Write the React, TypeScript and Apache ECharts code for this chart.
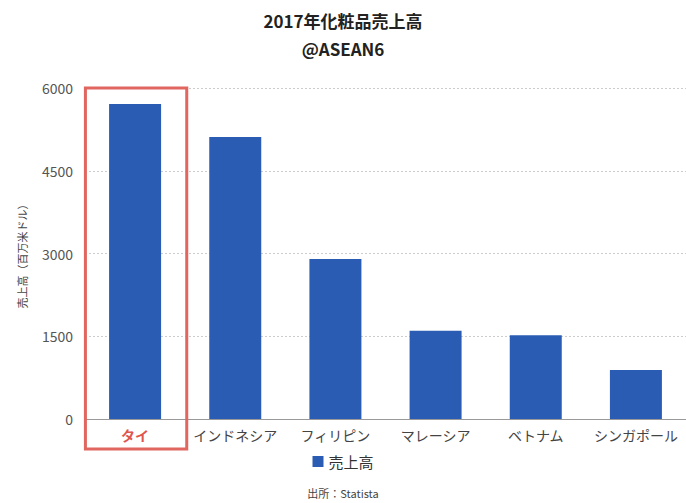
import React, { useEffect, useRef } from "react";
import * as echarts from "echarts";

const categories = ["タイ", "インドネシア", "フィリピン", "マレーシア", "ベトナム", "シンガポール"];
const salesValues = [5710, 5110, 2900, 1600, 1520, 890];
const yTicks = [0, 1500, 3000, 4500, 6000];
const highlightCategory = "タイ";

const FONT = "'Noto Sans CJK JP', 'Noto Sans', sans-serif";

export default function App() {
  const ref = useRef<HTMLDivElement>(null);
  useEffect(() => {
    if (!ref.current) return;
    const chart = echarts.init(ref.current, null, { renderer: "svg" });
    const sourceText = {
      type: "text",
      left: "center",
      top: 487,
      style: { text: "出所：Statista", font: `11px ${FONT}`, fill: "#444" },
    };
    chart.setOption({
      animation: false,
      backgroundColor: "#ffffff",
      textStyle: { fontFamily: FONT },
      title: {
        text: "2017年化粧品売上高\n@ASEAN6",
        left: "center",
        top: 1,
        textStyle: {
          fontFamily: FONT,
          fontSize: 17,
          fontWeight: "bold",
          color: "#222",
          lineHeight: 28,
        },
      },
      legend: {
        data: ["売上高"],
        top: 449,
        left: "center",
        icon: "rect",
        itemWidth: 11,
        itemHeight: 11,
        itemGap: 8,
        textStyle: { fontFamily: FONT, fontSize: 15, color: "#333" },
      },
      grid: { left: 85, top: 88, width: 608, height: 331 },
      xAxis: {
        type: "category",
        data: categories,
        axisTick: { show: false },
        axisLine: { lineStyle: { color: "#999", width: 1 } },
        axisLabel: {
          interval: 0,
          fontFamily: FONT,
          fontSize: 14,
          color: "#444",
          margin: 9,
          formatter: (v: string) => (v === highlightCategory ? `{hl|${v}}` : v),
          rich: {
            hl: { fontFamily: FONT, fontSize: 14, color: "#e0554d", fontWeight: "bold" },
          },
        },
      },
      yAxis: {
        type: "value",
        min: yTicks[0],
        max: yTicks[yTicks.length - 1],
        interval: 1500,
        name: "売上高（百万米ドル）",
        nameLocation: "middle",
        nameGap: 58,
        nameRotate: 90,
        nameTextStyle: { fontFamily: FONT, fontSize: 11, color: "#444" },
        axisLabel: {
          fontFamily: FONT,
          fontSize: 14,
          color: "#555",
          margin: 12,
          formatter: (v: number) => String(v),
        },
        axisLine: { show: false },
        axisTick: { show: false },
        splitLine: { lineStyle: { color: "#ccc", type: [2, 2], width: 1 } },
      },
      series: [
        {
          name: "売上高",
          type: "bar",
          data: salesValues,
          barWidth: 52,
          itemStyle: { color: "#2b5cb3" },
        },
      ],
      graphic: [sourceText],
    });
    const center = chart.convertToPixel({ xAxisIndex: 0 }, highlightCategory) as number;
    const topY = chart.convertToPixel({ yAxisIndex: 0 }, yTicks[yTicks.length - 1]) as number;
    const half = 608 / categories.length / 2;
    chart.setOption({
      graphic: [
        sourceText,
        {
          type: "rect",
          shape: { x: center - half + 1, y: topY, width: half * 2, height: 449 - topY },
          style: { fill: "none", stroke: "#e0665f", lineWidth: 3 },
          z: 100,
        },
      ],
    });
    return () => chart.dispose();
  }, []);
  return (
    <div
      ref={ref}
      style={{ position: "absolute", left: 0, top: 0, width: 686, height: 503 }}
    />
  );
}
